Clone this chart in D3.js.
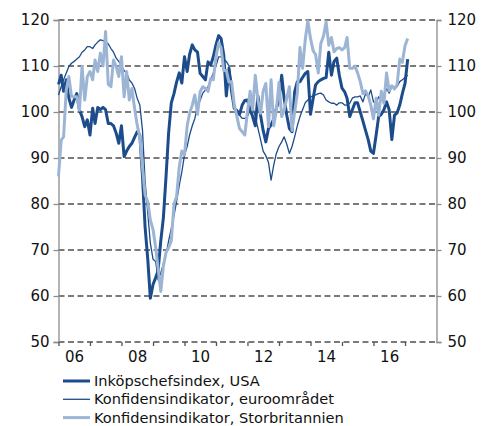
<!DOCTYPE html>
<html><head><meta charset="utf-8">
<script src="https://cdn.jsdelivr.net/npm/d3@7"></script>
<style>body{margin:0;background:#fff}svg{display:block}text{font-family:"DejaVu Sans",Verdana,sans-serif}</style>
</head><body>
<svg id="c" width="489" height="426"></svg>
<script>
// Monthly data, Jan 2006 – Feb 2017
const startYear = 2006;
const usa = [
 106,108,104.5,107,103,101,102.6,104,100.4,99,96.8,98.3,
 95,100.8,97.5,101,100.5,101,100.5,97.5,97.5,97,95.4,93.2,
 97,90.3,91.5,92.5,93.2,94.5,95.7,95,86,75,68,59.5,
 62.5,64,65.5,72,77,86,95.5,102,104,106.5,108.5,106.3,
 112,108.8,112.5,114.6,113.5,113,108.4,107.7,107,110.9,110.2,112,
 114.6,116.6,116,112.4,103.5,109.5,104.5,100.8,100.3,99.5,101.5,102.5,
 102.6,100.5,99,97,103.5,99.3,96,93.5,96.4,97.2,98.5,100.8,
 102.6,108,103,99.3,96.4,95.7,104.4,106.6,106.6,107.5,108.4,108.8,
 99.5,103,105.9,106.6,107,107.3,107.5,113,108,111,111.7,108,
 105.2,104.4,103,99,100.5,102,102,100,98,96,94,91.5,
 91,95,99,99.5,100.5,102.2,100.5,94,99.3,99.8,101.5,104,
 106.2,111.5
];
const euro = [
 103.7,105.5,107,108.5,109.9,110.6,111,111.5,112,113,113.5,114.2,
 114.2,113.8,114.6,115.2,115.7,115.5,115.3,114.8,113.8,113,111.7,111,
 110,109,108.4,107,106.3,105.1,103,101.5,96,85,78,71.5,
 68,67.5,63.5,65,67,69,72,74.7,77.5,80.5,84,87,
 90.7,92.5,95,97,98.6,101.2,102.5,104.1,104.8,105.5,107,108.5,
 110,112,112,111.5,111,110,106.5,101,100,99.3,98.6,98.6,
 99,100.5,101.2,99,96.5,94,91.5,90.5,89,85.2,88.5,91,
 92.5,93.5,94.6,93,91,92.5,94.6,97,99,100.5,102,102.6,
 103.3,103.5,103.7,104,104.1,103.7,102.6,102.2,101.9,101.9,101.5,102,
 102,101.5,101.5,101.9,103,103.3,103.3,103.5,102.2,104,103.3,104.8,
 102.2,101.9,103.3,102.6,103.3,105.1,104.1,105.5,105.5,105.5,106.6,107,
 107.5,108
];
const uk = [
 86,93.9,94.6,104.8,107.7,103.3,103.3,103.3,100.4,109.9,102.6,107.7,
 108.8,107,111.3,108.8,112.8,110,117.5,106,105.5,111.3,109.9,107.7,
 112,103.3,108.8,102.6,105.1,100.8,97.2,94.6,88,82,80.5,76.5,
 74.5,70.5,66,61,66.5,69.5,70.5,72,80,81.6,88,91.5,
 90.7,97,99.7,101.5,103.7,99.5,104.4,105.5,105.1,104.5,107.3,107,
 112,115,114,109,109,106.5,106.6,101.5,99,96.4,95.7,95,
 100,104.5,100.5,108,102.6,99.7,104.5,106.2,96.8,107,97,100.5,
 106.4,99,100.4,103,105.5,96,100,104,114,109.5,115.7,119.8,
 116,113.3,112.5,108.5,114.9,116.5,119.6,114.5,116.2,113.1,113.8,114,
 113.5,114,116.2,109.5,109.5,110,108.5,106.6,104,104.6,103.5,101.5,
 98.5,103,99.3,104.5,101.9,108.5,104.6,105.7,105,106,111.5,110.8,
 114.4,116
];
const yTicks = [50,60,70,80,90,100,110,120];
const yearLabels = ["06","08","10","12","14","16"];
const seriesNames = ["Inköpschefsindex, USA","Konfidensindikator, euroområdet","Konfidensindikator, Storbritannien"];

const darkBlue = "#1d4c8c", lightBlue = "#9db5d5", gridCol = "#7a7a7a", axisCol = "#8c8c8c";
const svg = d3.select("#c");
const x = d3.scaleTime().domain([new Date(2006,0,1), new Date(2018,0,1)]).range([58.5, 436.5]);
const y = d3.scaleLinear().domain([50,120]).range([342, 20]);
const dateOf = i => new Date(startYear, i, 1);

// grid
svg.append("g").selectAll("line").data(yTicks).join("line")
  .attr("x1", x.range()[0]).attr("x2", x.range()[1])
  .attr("y1", d => y(d)).attr("y2", d => y(d))
  .attr("stroke", gridCol).attr("stroke-width", 2).attr("stroke-dasharray", "6,3.5");

// left / right axes
const fmt = d3.format("d");
const la = svg.append("g").attr("transform", `translate(${x.range()[0]},0)`)
  .call(d3.axisLeft(y).tickValues(yTicks).tickSize(5).tickPadding(4).tickFormat(fmt));
const ra = svg.append("g").attr("transform", `translate(${x.range()[1]},0)`)
  .call(d3.axisRight(y).tickValues(yTicks).tickSize(5).tickPadding(6).tickFormat(fmt));
[la, ra].forEach(g => {
  g.select(".domain").attr("stroke", axisCol).attr("stroke-width", 1.3);
  g.selectAll(".tick line").attr("stroke", axisCol).attr("stroke-width", 1.3);
  g.selectAll("text").attr("font-size", 15).attr("fill", "#111").style("font-family", '"DejaVu Sans", Verdana, sans-serif');
});

// bottom ticks at year boundaries
const yearTicks = d3.range(2006, 2018).map(yr => new Date(yr,0,1));
const ba = svg.append("g").attr("transform", `translate(0,${y(50)})`)
  .call(d3.axisBottom(x).tickValues(yearTicks).tickSize(4).tickFormat(""));
ba.select(".domain").remove();
ba.selectAll(".tick line").attr("stroke", "#555").attr("stroke-width", 1.3);
// year labels mid-year
const labAxis = svg.append("g").attr("transform", `translate(0,${y(50)})`)
  .call(d3.axisBottom(x).tickValues(yearLabels.map(l => new Date(2000 + (+l), 6, 1)))
    .tickSize(0).tickPadding(9).tickFormat((d,i) => yearLabels[i]));
labAxis.select(".domain").remove();
labAxis.selectAll("text").attr("font-size", 15).attr("fill", "#111").style("font-family", '"DejaVu Sans", Verdana, sans-serif');

// lines
const line = d3.line().x((d,i) => x(dateOf(i))).y(d => y(d));
const series = [
  {data: usa, color: darkBlue, w: 3},
  {data: euro, color: darkBlue, w: 1.3},
  {data: uk, color: lightBlue, w: 3}
];
svg.append("g").selectAll("path").data(series).join("path")
  .attr("d", s => line(s.data)).attr("fill", "none")
  .attr("stroke", s => s.color).attr("stroke-width", s => s.w)
  .attr("stroke-linejoin", "round");

// legend
const lg = svg.append("g");
seriesNames.forEach((n, i) => {
  const yy = 381 + i * 18.3;
  lg.append("line").attr("x1", 63).attr("x2", 90).attr("y1", yy).attr("y2", yy)
    .attr("stroke", series[i].color).attr("stroke-width", series[i].w);
  lg.append("text").attr("x", 94).attr("y", yy).attr("dy", "0.35em")
    .attr("font-size", 14.6).attr("fill", "#111").text(n);
});
</script>
</body></html>
